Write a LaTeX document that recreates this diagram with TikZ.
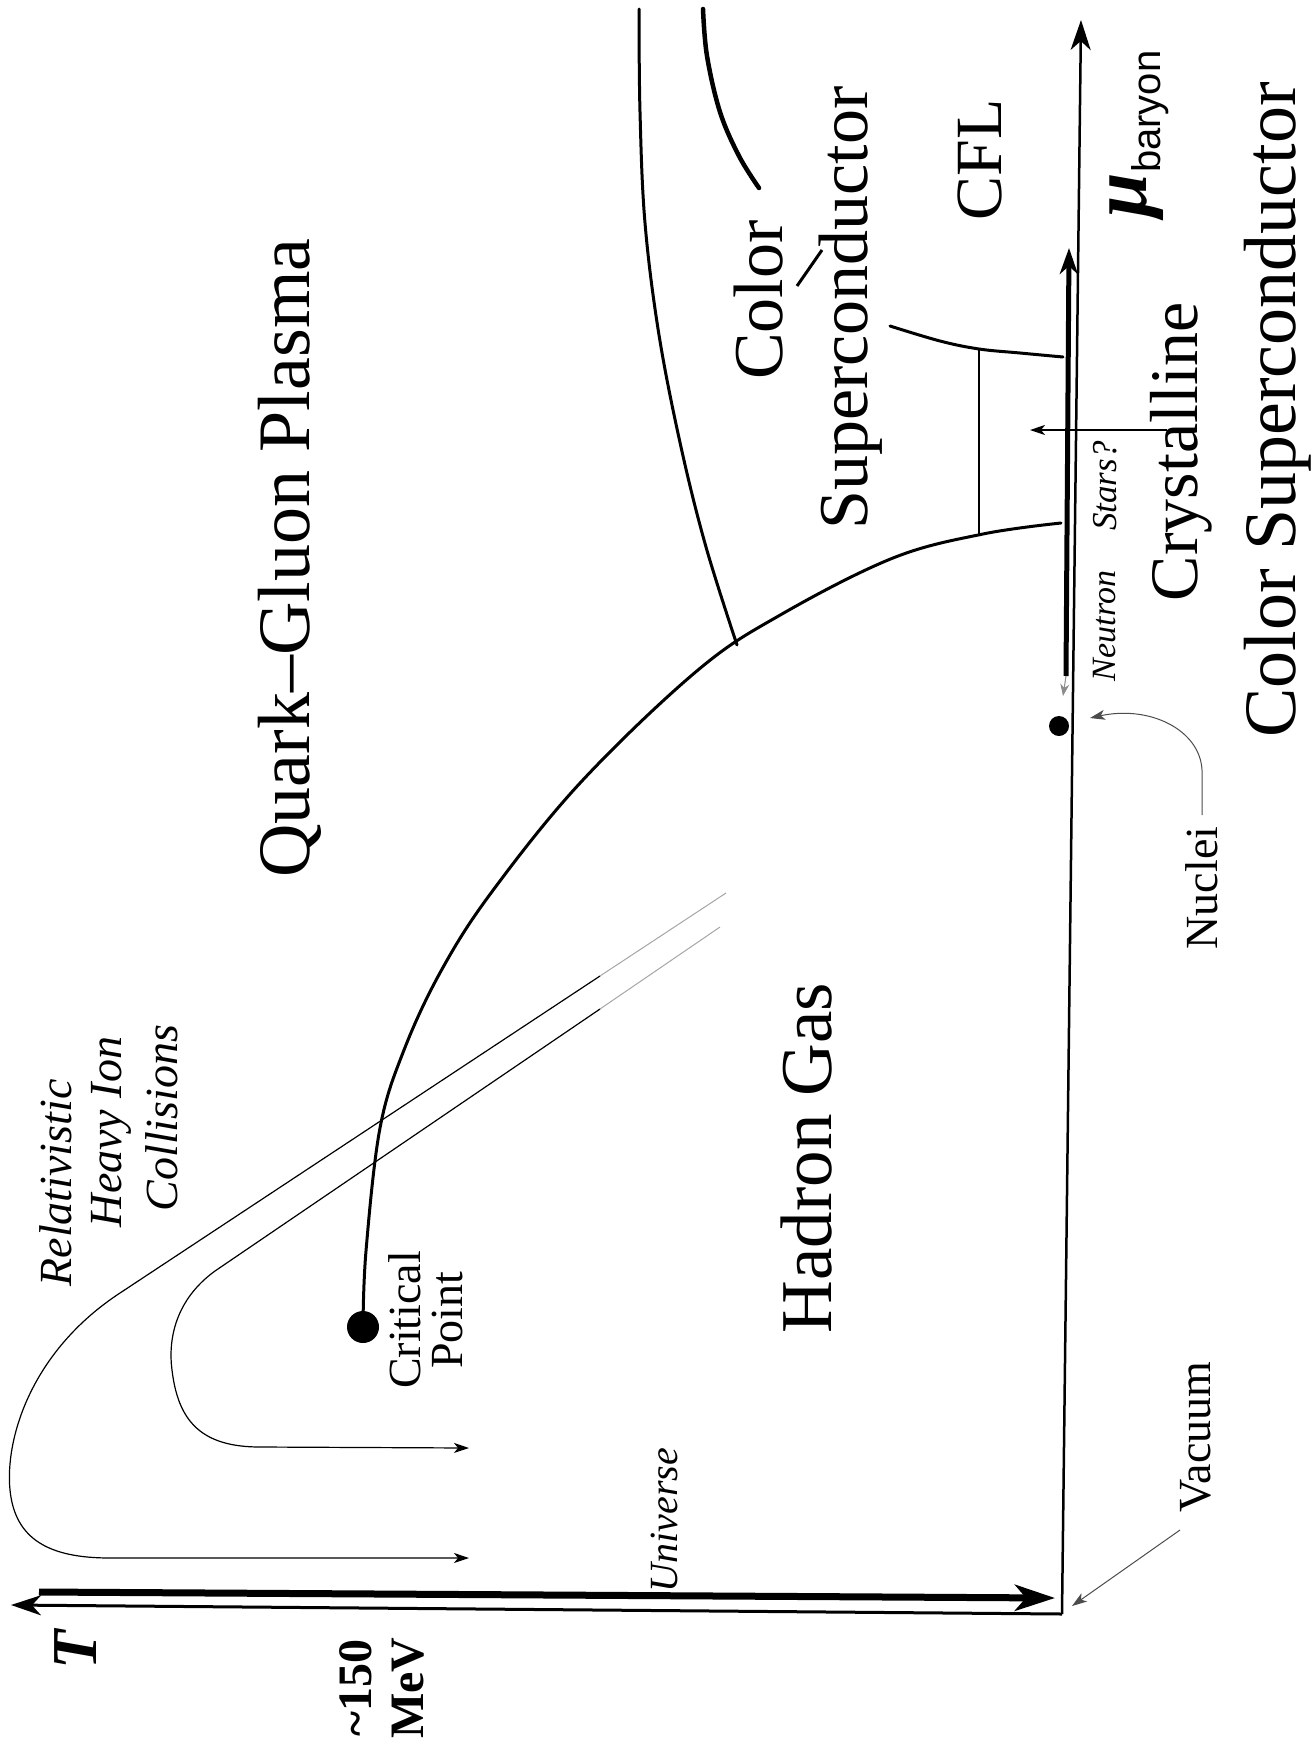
\documentclass[tikz,border=0pt]{standalone}
\usepackage{fontspec}
\setmainfont{Liberation Serif}
\setsansfont{Liberation Sans}
\usetikzlibrary{arrows.meta}
\newcommand\fsz[1]{\fontsize{#1}{#1}\selectfont}
\tikzset{
  bigtip/.tip={Stealth[length=30pt,width=20pt,inset=9pt]},
  fattip/.tip={Stealth[length=40pt,width=26pt,inset=11pt]},
  midtip/.tip={Stealth[length=26pt,width=18pt,inset=8pt]},
  smalltip/.tip={Stealth[length=15pt,width=10pt,inset=4pt]},
}
\begin{document}
\begin{tikzpicture}[x=1pt,y=-1pt,
  lbl/.style={rotate=90,inner sep=0pt,anchor=center},
  boundary/.style={line width=3pt,line cap=round},
  thinpath/.style={line width=1.2pt},
  fadepath/.style={line width=1pt,black!35},
  leader/.style={line width=1pt,black!70,-{smalltip}},
]
\useasboundingbox (0,0) rectangle (1312,1751);
\fill[white] (0,0) rectangle (1312,1751);

% axes
\coordinate (O) at (1062,1614);
\coordinate (Tend) at (11,1605);
\coordinate (Mend) at (1081,20);
\draw[line width=3pt,-{bigtip}] (O) -- (Tend);
\draw[line width=2.5pt,-{bigtip}] (O) -- (Mend);

% early universe trajectory
\coordinate (u0) at (39,1592);
\coordinate (u1) at (1055,1598);
\draw[line width=7pt,-{fattip}] (u0) -- (u1);

% critical point and first-order line
\node[circle,fill=black,minimum size=32pt,inner sep=0pt] (cp) at (363,1327) {};
\draw[boundary] plot[smooth,tension=0.6] coordinates {
  (363,1327) (366,1251) (380,1128) (404,1050) (441,971) (491,893)
  (581,782) (698,670) (782,614) (893,558) (983,534) (1061,523)};

% colour-superconductor boundaries
\draw[boundary] plot[smooth,tension=0.6] coordinates {
  (639,9) (640,112) (645,223) (659,335) (681,447) (706,547) (737,645)};
\draw[line width=4.5pt,line cap=round] plot[smooth,tension=0.6] coordinates {
  (703,9) (707,56) (720,112) (739,156) (759,188)};
\draw[boundary] plot[smooth,tension=0.6] coordinates {
  (890,326) (940,341) (979,349) (1020,353) (1063,357)};
\coordinate (vtop) at (979,349);
\coordinate (vbot) at (979,535);
\draw[line width=2.5pt] (vtop) -- (vbot);

% neutron stars
\coordinate (ns0) at (1066,676);
\coordinate (ns1) at (1069,248);
\draw[line width=5pt,-{midtip}] (ns0) -- (ns1);
\coordinate (ns2) at (1063,696);
\draw[black!45,line width=1pt,-{Stealth[length=12pt,width=9pt]}] (ns0) -- (ns2);
\coordinate (nsa) at (1167,430);
\coordinate (nsb) at (1030,430);
\draw[line width=1.5pt,-{smalltip}] (nsa) -- (nsb);

% nuclei
\node[circle,fill=black,minimum size=20pt,inner sep=0pt] (nuc) at (1059,726) {};

% heavy ion collision trajectories (faint where they begin)
\coordinate (hi0) at (726,893);
\coordinate (him) at (600,976);
\coordinate (hi1) at (469,1558);
\draw[fadepath] (hi0) -- (him);
\draw[thinpath,-{smalltip}] (him) -- (120,1293)
  .. controls (30,1352) and (5,1440) .. (10,1490)
  .. controls (15,1540) and (50,1558) .. (110,1558) -- (hi1);
\coordinate (hj0) at (720,927);
\coordinate (hjm) at (600,1009);
\coordinate (hj1) at (469,1448);
\draw[fadepath] (hj0) -- (hjm);
\draw[thinpath,-{smalltip}] (hjm) -- (215,1271)
  .. controls (175,1300) and (168,1340) .. (172,1370)
  .. controls (178,1420) and (200,1447) .. (260,1447) -- (hj1);

% labels
\node[lbl,font=\fsz{64}\bfseries\itshape] (T) at (76,1650) {T};
\node[lbl,font=\fsz{48}\bfseries,align=center] (mev) at (382,1688) {\textasciitilde150\\[4pt]MeV};
\node[lbl,font=\fsz{74}] (qgp) at (290,558) {Quark--Gluon Plasma};
\node[lbl,font=\fsz{46}\itshape] (r1) at (56,1183) {Relativistic};
\node[lbl,font=\fsz{46}\itshape] (r2) at (111,1132) {Heavy Ion};
\node[lbl,font=\fsz{46}\itshape] (r3) at (162,1118) {Collisions};
\node[lbl,font=\fsz{46},align=center] (cplab) at (426,1320) {Critical\\[-4pt]Point};
\node[lbl,font=\fsz{73}] (hg) at (807,1158) {Hadron Gas};
\node[lbl,font=\fsz{40}\itshape] (univ) at (664,1520) {Universe};
\node[lbl,font=\fsz{46}] (vac) at (1196,1437) {Vacuum};
\node[lbl,font=\fsz{46}] (nuclab) at (1202,888) {Nuclei};
\node[lbl,font=\fsz{34}\itshape] (neu) at (1105,626) {Neutron};
\node[lbl,font=\fsz{35}\itshape] (stars) at (1105,486) {Stars?};
\node[lbl,font=\fsz{68}] (cryst) at (1181,452) {Crystalline};
\node[lbl,font=\fsz{74}] (csc) at (1278,410) {Color Superconductor};
\node[lbl,font=\fsz{66}] (cfl) at (980,160) {CFL};
\node[lbl,font=\fsz{70}] (col) at (759,300) {Color};
\node[lbl,font=\fsz{70}] (sup) at (851,308) {Superconductor};
\node[lbl] (mu) at (1139,134) {\fsz{80}\bfseries\itshape μ\raisebox{-14pt}{\fsz{40}\mdseries\upshape\sffamily baryon}};
\draw[line width=3pt] (797,286) -- (822,250);

% leaders
\coordinate (nucend) at (1090,718);
\draw[leader] (1202,815) -- (1202,770) .. controls (1200,730) and (1150,705) .. (nucend);
\coordinate (vacstart) at (1180,1530);
\coordinate (vacend) at (1072,1606);
\draw[leader] (vacstart) -- (vacend);
\end{tikzpicture}
\end{document}
